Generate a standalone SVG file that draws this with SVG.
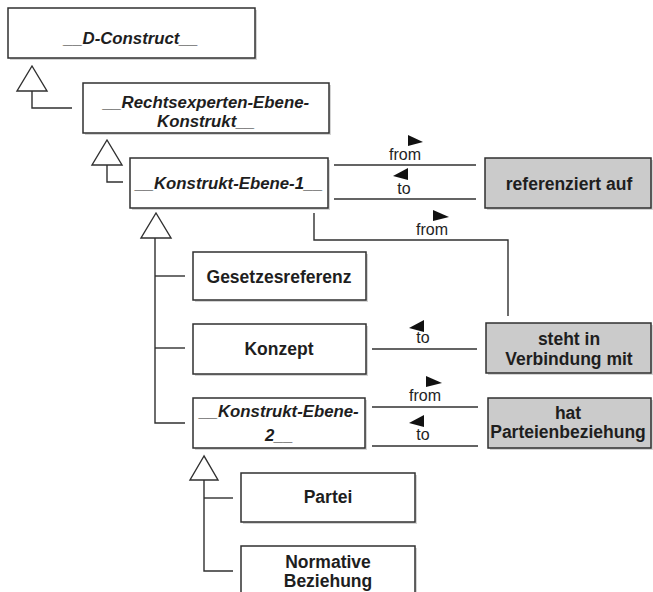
<svg xmlns="http://www.w3.org/2000/svg" width="653" height="592" viewBox="0 0 653 592">
<style>
.box{fill:#ffffff;stroke:#303030;stroke-width:1.5}
.gbox{fill:#cbcbcb;stroke:#303030;stroke-width:1.5}
.sh{fill:#b8b8b8;opacity:0.6}
.ln{fill:none;stroke:#303030;stroke-width:1.4}
.tri{fill:#ffffff;stroke:#303030;stroke-width:1.4}
.ah{fill:#111111}
.t{font-family:"Liberation Sans",Arial,sans-serif;font-size:17.5px;font-weight:bold;fill:#1e1e1e;text-anchor:middle}
.ti{font-family:"Liberation Sans",Arial,sans-serif;font-size:16.8px;font-weight:bold;font-style:italic;fill:#1e1e1e;text-anchor:middle}
.l{font-family:"Liberation Sans",Arial,sans-serif;font-size:16px;fill:#1e1e1e;text-anchor:middle}
</style>
<rect width="653" height="592" fill="#ffffff"/>
<g id="connectors">
  <polygon class="tri" points="32,66 17,91 47,91"/>
  <polyline class="ln" points="32,91 32,108 72,108"/>
  <polygon class="tri" points="107,140 92,165 122,165"/>
  <polyline class="ln" points="107,165 107,182 123,182"/>
  <polygon class="tri" points="156,213 141,238 171,238"/>
  <polyline class="ln" points="155,238 155,423 185,423"/>
  <line class="ln" x1="155" y1="276" x2="185" y2="276"/>
  <line class="ln" x1="155" y1="348" x2="185" y2="348"/>
  <polygon class="tri" points="204,456 190,480 218,480"/>
  <polyline class="ln" points="204,480 204,571 233,571"/>
  <line class="ln" x1="204" y1="498" x2="233" y2="498"/>
  <line class="ln" x1="334" y1="165" x2="476" y2="165"/>
  <polygon class="ah" points="408,135 408,146 423,142"/>
  <text class="l" x="405" y="160">from</text>
  <line class="ln" x1="334" y1="199" x2="476" y2="199"/>
  <polygon class="ah" points="408,168 408,180 393,176"/>
  <text class="l" x="404" y="194">to</text>
  <polyline class="ln" points="314,213 314,240 508,240 508,316"/>
  <polygon class="ah" points="433,210 433,221 449,217"/>
  <text class="l" x="432" y="235">from</text>
  <line class="ln" x1="372" y1="349" x2="477" y2="349"/>
  <polygon class="ah" points="424,320 424,332 409,328"/>
  <text class="l" x="423" y="343">to</text>
  <line class="ln" x1="372" y1="407" x2="478" y2="407"/>
  <polygon class="ah" points="426,376 426,387 442,383"/>
  <text class="l" x="425" y="401">from</text>
  <line class="ln" x1="372" y1="446" x2="478" y2="446"/>
  <polygon class="ah" points="424,415 424,427 409,423"/>
  <text class="l" x="423" y="440">to</text>
</g>
<g id="d-construct">
  <rect class="sh" x="10" y="10" width="247" height="50"/>
  <rect class="box" x="8" y="8" width="247" height="50"/>
  <text class="ti" x="131" y="44">__D-Construct__</text>
</g>
<g id="rechtsexperten">
  <rect class="sh" x="85" y="85" width="246" height="50"/>
  <rect class="box" x="83" y="83" width="246" height="50"/>
  <text class="ti" x="206" y="108">__Rechtsexperten-Ebene-</text>
  <text class="ti" x="206" y="127">Konstrukt__</text>
</g>
<g id="konstrukt-ebene-1">
  <rect class="sh" x="132" y="160" width="198" height="50"/>
  <rect class="box" x="130" y="158" width="198" height="50"/>
  <text class="ti" x="229" y="189">__Konstrukt-Ebene-1__</text>
</g>
<g id="referenziert-auf">
  <rect class="sh" x="487" y="160" width="166" height="50"/>
  <rect class="gbox" x="485" y="158" width="166" height="50"/>
  <text class="t" x="569" y="190">referenziert auf</text>
</g>
<g id="gesetzesreferenz">
  <rect class="sh" x="195" y="254" width="173" height="48"/>
  <rect class="box" x="193" y="252" width="173" height="48"/>
  <text class="t" x="279" y="283">Gesetzesreferenz</text>
</g>
<g id="konzept">
  <rect class="sh" x="195" y="326" width="173" height="50"/>
  <rect class="box" x="193" y="324" width="173" height="50"/>
  <text class="t" x="279" y="355">Konzept</text>
</g>
<g id="steht-in-verbindung-mit">
  <rect class="sh" x="488" y="325" width="165" height="50"/>
  <rect class="gbox" x="486" y="323" width="165" height="50"/>
  <text class="t" x="569" y="345">steht in</text>
  <text class="t" x="569" y="365">Verbindung mit</text>
</g>
<g id="konstrukt-ebene-2">
  <rect class="sh" x="195" y="400" width="172" height="50"/>
  <rect class="box" x="193" y="398" width="172" height="50"/>
  <text class="ti" x="279" y="417">__Konstrukt-Ebene-</text>
  <text class="ti" x="279" y="441">2__</text>
</g>
<g id="hat-parteienbeziehung">
  <rect class="sh" x="490" y="400" width="163" height="50"/>
  <rect class="gbox" x="488" y="398" width="163" height="50"/>
  <text class="t" x="568" y="419">hat</text>
  <text class="t" x="568" y="438">Parteienbeziehung</text>
</g>
<g id="partei">
  <rect class="sh" x="243" y="475" width="174" height="49"/>
  <rect class="box" x="241" y="473" width="174" height="49"/>
  <text class="t" x="328" y="503">Partei</text>
</g>
<g id="normative-beziehung">
  <rect class="sh" x="243" y="548" width="174" height="50"/>
  <rect class="box" x="241" y="546" width="174" height="50"/>
  <text class="t" x="328" y="568">Normative</text>
  <text class="t" x="328" y="587">Beziehung</text>
</g>
</svg>
